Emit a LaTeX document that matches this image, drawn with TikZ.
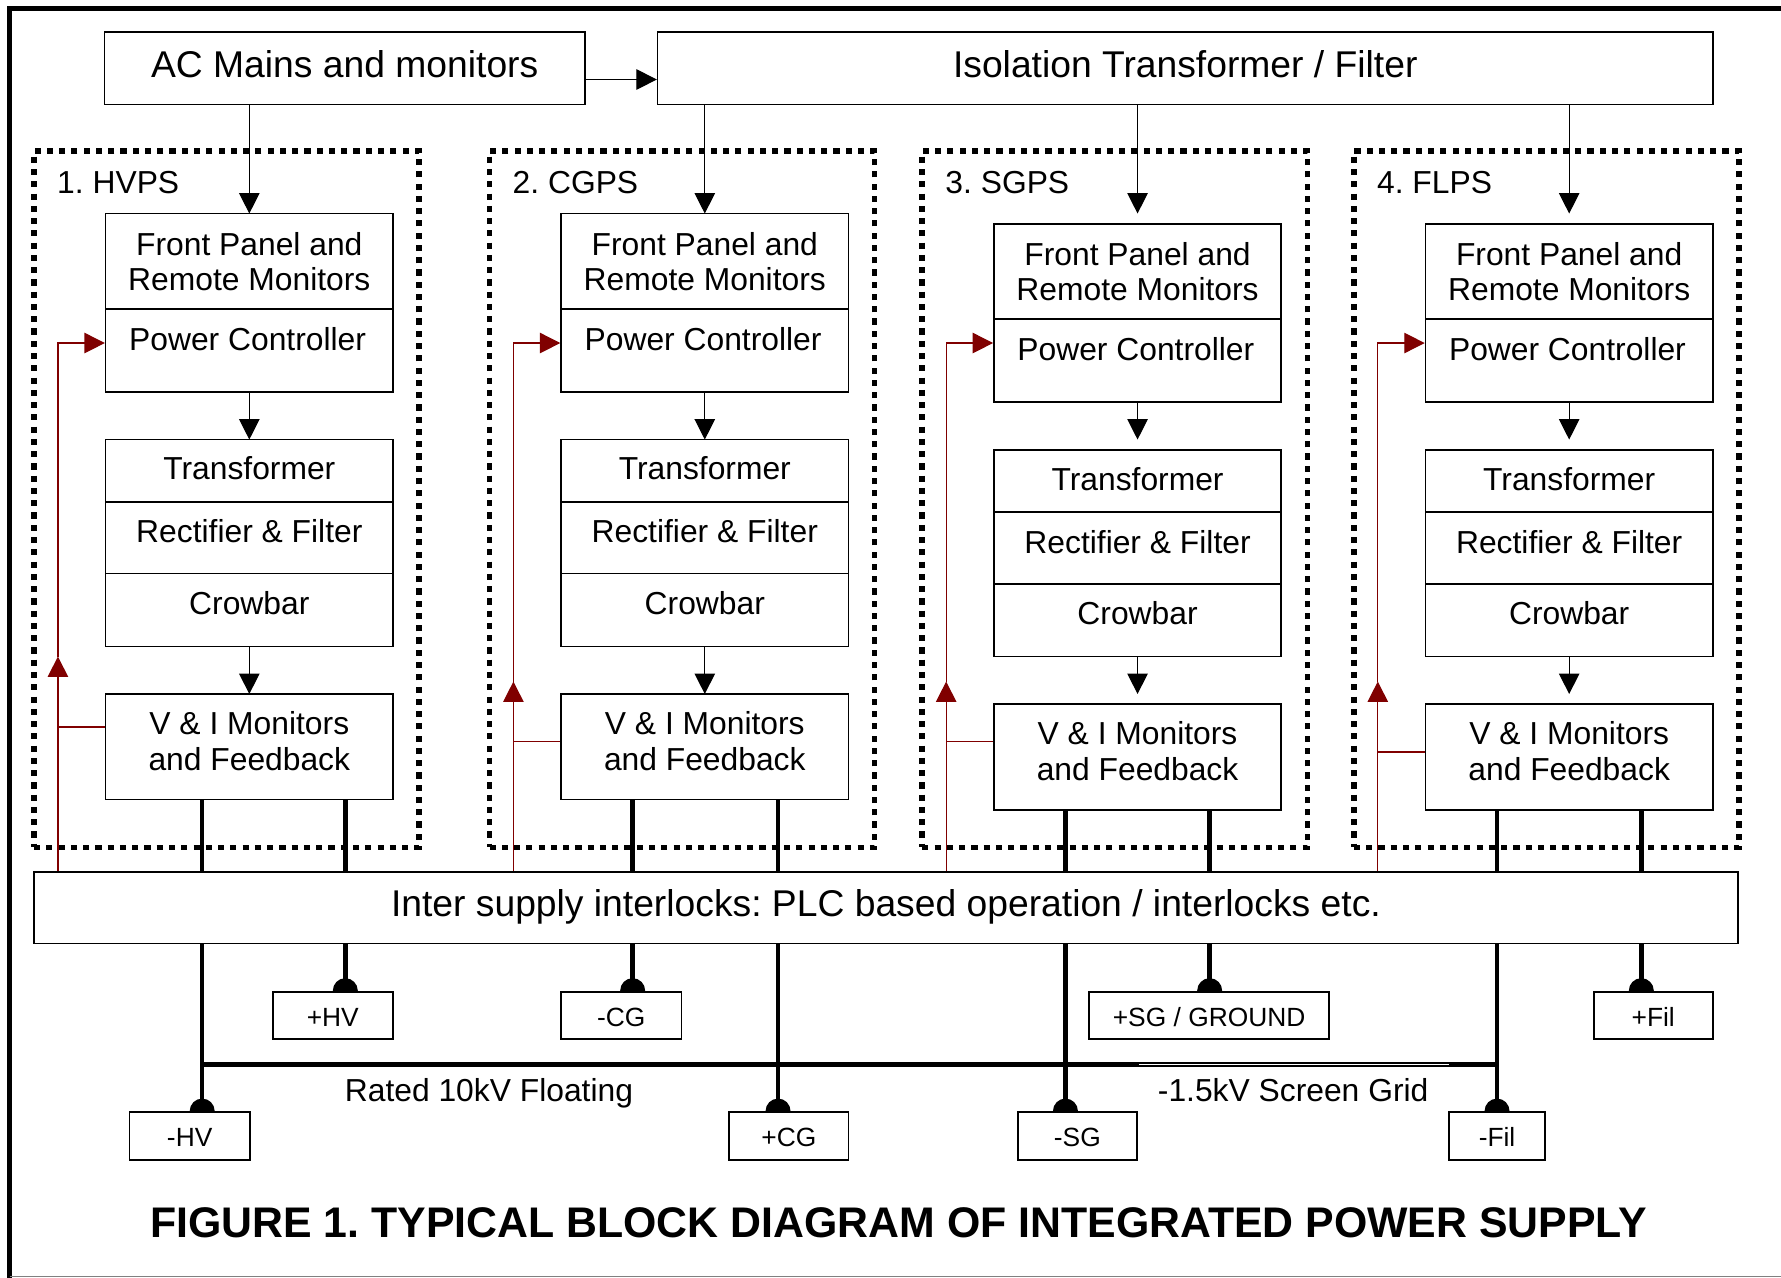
\documentclass[tikz,border=0pt]{standalone}
\usepackage{fontspec}
\setmainfont{Liberation Sans}
\usetikzlibrary{arrows.meta,fit}
\definecolor{fbred}{RGB}{128,0,0}
\pgfdeclarelayer{dotlayer}
\pgfdeclarelayer{wirelayer}
\pgfsetlayers{dotlayer,wirelayer,main}
\frenchspacing
\begin{document}
\begin{tikzpicture}[x=0.5pt,y=-0.5pt,
  blk/.style={draw,line width=0.7pt,fill=white,inner sep=0pt},
  termbox/.style={draw,line width=0.8pt,fill=white,inner sep=0pt},
  dotbox/.style={draw,line width=2.5pt,dash pattern=on 2.7pt off 2.7pt,inner sep=0pt},
  txt/.style={inner sep=0pt,anchor=base,font=\fontsize{14}{16}\selectfont},
  bigtxt/.style={inner sep=0pt,anchor=base,font=\fontsize{16.4}{19}\selectfont},
  smalltxt/.style={inner sep=0pt,anchor=base,font=\fontsize{11.6}{13}\selectfont},
  titletxt/.style={inner sep=0pt,anchor=base,font=\fontsize{18.85}{22}\selectfont\bfseries},
  flow/.style={line width=0.5pt,-{Triangle[length=9pt,width=9pt]}},
  feed/.style={color=fbred,line width=0.55pt},
  feedarrow/.style={feed,-{Triangle[length=9pt,width=9pt]}},
  busline/.style={line width=2pt},
]
\useasboundingbox (0,0) rectangle (1568,1125);
% outer frame
\draw[line width=2.3pt] (8.5,1135) -- (8.5,7.2) -- (1580,7.2);
\draw[gray,line width=0.6pt] (8.5,1123.8) -- (1580,1123.8);

% top boxes
\node[blk,fit={(92,28) (515,92)}] (ac) {};
\node[bigtxt] (actxt) at (303.5,68) {AC Mains and monitors};
\node[blk,fit={(579,28) (1508,92)}] (iso) {};
\node[bigtxt] (isotxt) at (1043.5,68) {Isolation Transformer / Filter};
\draw[flow] (ac.east |- 0,70) -- (iso.west |- 0,70);

% columns
\foreach \i/\ox/\dy/\ll/\lr/\ry/\rt/\nm in {1/0/0/85/211/640/578/1. HVPS,
  2/401/0/63/191/653/600/2. CGPS,3/782/9/63/190/653/600/3. SGPS,4/1162/9/63/190/662/600/4. FLPS}{
  \begin{pgfonlayer}{dotlayer}
    \node[dotbox,fit={(30+\ox,133) (369+\ox,746)}] (db\i) {};
  \end{pgfonlayer}
  \node[txt,anchor=base west] (nm\i) at (50+\ox,170) {\nm};
  \node[blk,fit={(93+\ox,188+\dy) (346+\ox,272+\dy)}] (fp\i) {};
  \node[blk,fit={(93+\ox,272+\dy) (346+\ox,345+\dy)}] (pc\i) {};
  \node[blk,fit={(93+\ox,387+\dy) (346+\ox,442+\dy)}] (tr\i) {};
  \node[blk,fit={(93+\ox,442+\dy) (346+\ox,505+\dy)}] (rf\i) {};
  \node[blk,fit={(93+\ox,505+\dy) (346+\ox,569+\dy)}] (cb\i) {};
  \node[blk,fit={(93+\ox,611+\dy) (346+\ox,704+\dy)}] (vi\i) {};
  \node[txt] (fpa\i) at (219.5+\ox,224.5+\dy) {Front Panel and};
  \node[txt] (fpb\i) at (219.5+\ox,255.5+\dy) {Remote Monitors};
  \node[txt] (pct\i) at (218+\ox,308.5+\dy) {Power Controller};
  \node[txt] (trt\i) at (219.5+\ox,422.5+\dy) {Transformer};
  \node[txt] (rft\i) at (219.5+\ox,478+\dy) {Rectifier \& Filter};
  \node[txt] (cbt\i) at (219.5+\ox,541+\dy) {Crowbar};
  \node[txt] (via\i) at (219.5+\ox,646.5+\dy) {V \& I Monitors};
  \node[txt] (vib\i) at (219.5+\ox,678+\dy) {and Feedback};
  \coordinate (in\i) at (219.5+\ox,188);
  \coordinate (a\i) at (219.5+\ox,387);
  \coordinate (b\i) at (219.5+\ox,611);
  \draw[flow] (pc\i.south) -- (a\i);
  \draw[flow] (cb\i.south) -- (b\i);
  \coordinate (rt\i) at (51+\ox,\rt);
  \coordinate (rp\i) at (51+\ox,302);
  \coordinate (rj\i) at (51+\ox,\ry);
  \coordinate (vl\i) at (93+\ox+\ll,0);
  \coordinate (vr\i) at (93+\ox+\lr,0);
}
\draw[flow] (ac.south -| in1) -- (in1);
\foreach \i in {2,3,4}{\draw[flow] (iso.south -| in\i) -- (in\i);}

% interlock box
\node[blk,fit={(30,767.5) (1530,830.5)}] (il) {};
\node[bigtxt] (iltxt) at (780,807) {Inter supply interlocks: PLC based operation / interlocks etc.};

% terminals
\node[termbox,fit={(240,873) (346,915)}] (phv) {};
\node[smalltxt] (phvt) at (phv.center |- 0,904) {+HV};
\node[termbox,fit={(494,873) (600,915)}] (mcg) {};
\node[smalltxt] (mcgt) at (mcg.center |- 0,904) {-CG};
\node[termbox,fit={(959,873) (1170,915)}] (psg) {};
\node[smalltxt] (psgt) at (psg.center |- 0,904) {+SG / GROUND};
\node[termbox,fit={(1403,873) (1508,915)}] (pfil) {};
\node[smalltxt] (pfilt) at (pfil.center |- 0,904) {+Fil};
\node[termbox,fit={(114,979) (220,1021)}] (mhv) {};
\node[smalltxt] (mhvt) at (mhv.center |- 0,1009.5) {-HV};
\node[termbox,fit={(642,979) (747,1021)}] (pcg) {};
\node[smalltxt] (pcgt) at (pcg.center |- 0,1009.5) {+CG};
\node[termbox,fit={(896,979) (1001,1021)}] (msg) {};
\node[smalltxt] (msgt) at (msg.center |- 0,1009.5) {-SG};
\node[termbox,fit={(1276,979) (1360,1021)}] (mfil) {};
\node[smalltxt] (mfilt) at (mfil.center |- 0,1009.5) {-Fil};

% wires
\begin{pgfonlayer}{wirelayer}
  \foreach \i in {1,2,3,4}{
    \draw[feedarrow] (rt\i |- il.north) -- (rt\i);
    \draw[feedarrow] (rt\i) -- (rp\i) -- (pc\i.west |- rp\i);
    \draw[feed] (vi\i.west |- rj\i) -- (rj\i);
  }
  \foreach \v/\c/\t in {vl1/1/mhv,vr1/1/phv,vl2/2/mcg,vr2/2/pcg,vl3/3/msg,vr3/3/psg,vl4/4/mfil,vr4/4/pfil}{
    \draw[busline] (vi\c.south -| \v) -- (\t.north -| \v);
    \fill (\t.north -| \v) circle[radius=5.5pt];
  }
  \draw[busline,line cap=rect] (vl1 |- 0,937) -- (vl4 |- 0,937);
  \draw[white,line width=0.7pt] (1003,937) -- (1276,937);
\end{pgfonlayer}

% labels
\node[txt] (rated) at (430.5,970) {Rated 10kV Floating};
\node[txt] (sgrid) at (1138.5,970) {-1.5kV Screen Grid};
\node[titletxt] (title) at (791,1089.5) {FIGURE 1. TYPICAL BLOCK DIAGRAM OF INTEGRATED POWER SUPPLY};
\end{tikzpicture}
\end{document}
